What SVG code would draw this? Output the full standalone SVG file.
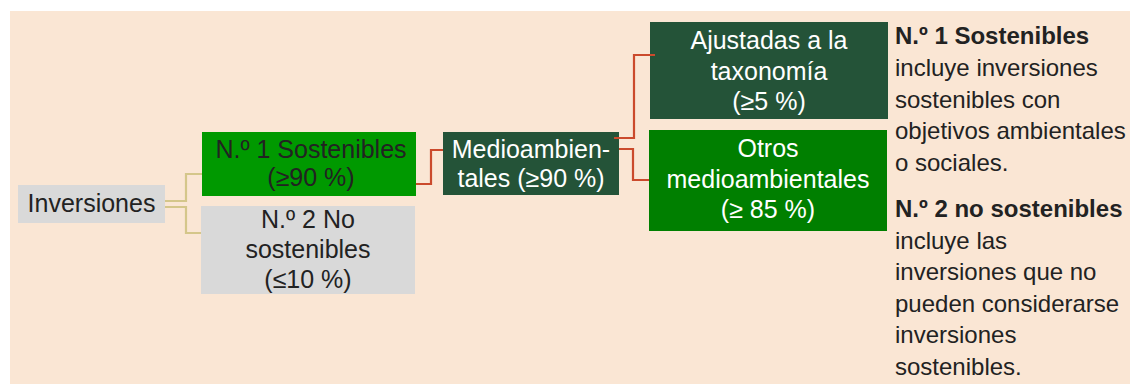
<svg xmlns="http://www.w3.org/2000/svg" width="1138" height="384" viewBox="0 0 1138 384">
<style>
text{font-family:"Liberation Sans",Arial,sans-serif;}
.n{font-size:25px;text-anchor:middle;}
.d{fill:#222222;}
.w{fill:#ffffff;}
.r{font-size:24px;fill:#222222;}
.b{font-weight:bold;}
.tan{fill:none;stroke:#D4C68A;stroke-width:2.2;}
.red{fill:none;stroke:#CB4A2C;stroke-width:2.2;}
</style>
<rect x="10" y="11" width="1120" height="373" fill="#FAE6D4"/>
<g id="inversiones">
<rect x="18" y="185" width="147" height="38" fill="#D9D9D9"/>
<text class="n d" x="91.5" y="212">Inversiones</text>
</g>
<g id="n1">
<rect x="202" y="132" width="214" height="64" fill="#009900"/>
<text class="n d" x="311" y="158">N.º 1 Sostenibles</text>
<text class="n d" x="311" y="186">(≥90 %)</text>
</g>
<g id="n2">
<rect x="201" y="206" width="214" height="88" fill="#D9D9D9"/>
<text class="n d" x="308" y="228">N.º 2 No</text>
<text class="n d" x="308" y="258">sostenibles</text>
<text class="n d" x="308" y="288">(≤10 %)</text>
</g>
<g id="medio">
<rect x="443" y="132" width="176" height="63" fill="#245338"/>
<text class="n w" x="531" y="158">Medioambien-</text>
<text class="n w" x="531" y="187">tales (≥90 %)</text>
</g>
<g id="ajustadas">
<rect x="650" y="22" width="238" height="97" fill="#245338"/>
<text class="n w" x="769" y="49">Ajustadas a la</text>
<text class="n w" x="769" y="80">taxonomía</text>
<text class="n w" x="769" y="110">(≥5 %)</text>
</g>
<g id="otros">
<rect x="649" y="130" width="238" height="101" fill="#007F00"/>
<text class="n w" x="768" y="157">Otros</text>
<text class="n w" x="768" y="188">medioambientales</text>
<text class="n w" x="768" y="218">(≥ 85 %)</text>
</g>
<g id="connectors">
<polyline class="tan" points="165,201 186,201 186,174 202,174"/>
<polyline class="tan" points="165,207 186,207 186,233 201,233"/>
<polyline class="red" points="416,184 431,184 431,150 443,150"/>
<polyline class="red" points="614,138 634,138 634,55 655,55"/>
<polyline class="red" points="619,149 633,149 633,180 649,180"/>
</g>
<g id="legend">
<text class="r b" x="895" y="44">N.º 1 Sostenibles</text>
<text class="r" x="895" y="76">incluye inversiones</text>
<text class="r" x="895" y="108">sostenibles con</text>
<text class="r" x="895" y="139">objetivos ambientales</text>
<text class="r" x="895" y="171">o sociales.</text>
<text class="r b" x="895" y="217">N.º 2 no sostenibles</text>
<text class="r" x="895" y="249">incluye las</text>
<text class="r" x="895" y="280">inversiones que no</text>
<text class="r" x="895" y="312">pueden considerarse</text>
<text class="r" x="895" y="343">inversiones</text>
<text class="r" x="895" y="375">sostenibles.</text>
</g>
</svg>
